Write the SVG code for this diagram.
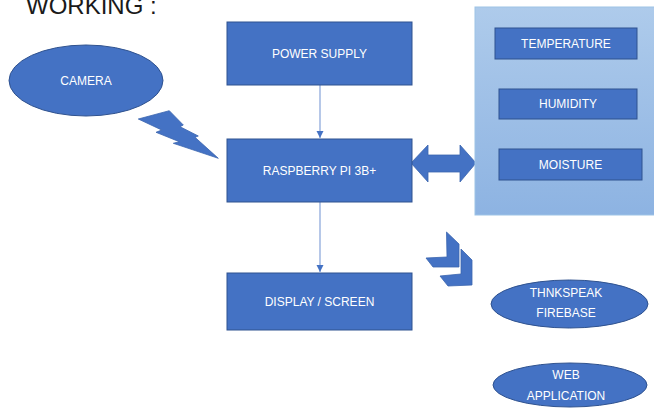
<svg xmlns="http://www.w3.org/2000/svg" width="654" height="409" viewBox="0 0 654 409">
<defs>
<style>
.box{fill:#4472C4;stroke:#2F528F;stroke-width:1}
.shape{fill:#4472C4;stroke:#3A64AE;stroke-width:0.8}
.t{font-family:"Liberation Sans",Arial,sans-serif;font-size:12px;fill:#FFFFFF;text-anchor:middle;dominant-baseline:central}
.conn{stroke:#8FAADC;stroke-width:1.3;fill:none}
</style>
<linearGradient id="pg" x1="0" y1="0" x2="0" y2="1">
<stop offset="0" stop-color="#AECBEB"/>
<stop offset="1" stop-color="#8DB3E2"/>
</linearGradient>
<marker id="ah" markerWidth="8" markerHeight="8" refX="7" refY="4" orient="auto" markerUnits="userSpaceOnUse">
<path d="M0,0.5 L7,4 L0,7.5 Z" fill="#4472C4"/>
</marker>
</defs>
<rect width="654" height="409" fill="#FFFFFF"/>
<text x="26" y="14" font-family="Liberation Sans,Arial,sans-serif" font-size="24" fill="#1A1A1A">WORKING :</text>

<g id="connectors">
<line class="conn" x1="320" y1="85" x2="320" y2="138" marker-end="url(#ah)"/>
<line class="conn" x1="320" y1="202" x2="320" y2="272" marker-end="url(#ah)"/>
<polygon id="lightning" class="shape" points="138.3,119 169.3,110.7 183.3,125 180,126.7 198.3,136 195,137.3 218.3,158.3 173.3,143.3 179.3,141.7 156,132.3 161.7,130"/>
<polygon id="double-arrow" class="shape" points="411,163 428,145 428,155 460,155 460,145 476,163 460,182 460,172 428,172 428,182"/>
<g id="chevrons">
<polygon class="shape" points="446.5,232 459,244 459,267 433,267 426,258 447,257"/>
<polygon class="shape" points="461,249 472,260 472,285 448,286 440,276 461,274"/>
</g>
</g>

<g id="camera">
<ellipse class="box" cx="86" cy="80.5" rx="77" ry="35.5"/>
<text class="t" x="86" y="81">CAMERA</text>
</g>

<g id="power-supply">
<rect class="box" x="227" y="22" width="185" height="63"/>
<text class="t" x="319.5" y="53.5">POWER SUPPLY</text>
</g>

<g id="raspberry-pi">
<rect class="box" x="227" y="139" width="185" height="63"/>
<text class="t" x="319.5" y="170.5">RASPBERRY PI 3B+</text>
</g>

<g id="display">
<rect class="box" x="227" y="273" width="185" height="57"/>
<text class="t" x="319.5" y="302">DISPLAY / SCREEN</text>
</g>

<g id="sensors">
<rect x="475" y="7" width="180" height="208" fill="url(#pg)" stroke="#9DC3E6" stroke-width="1"/>
<g id="temperature">
<rect class="box" x="495" y="28" width="142" height="31"/>
<text class="t" x="566" y="43.5">TEMPERATURE</text>
</g>
<g id="humidity">
<rect class="box" x="499" y="89" width="138" height="30"/>
<text class="t" x="568" y="104">HUMIDITY</text>
</g>
<g id="moisture">
<rect class="box" x="499" y="149" width="143" height="31"/>
<text class="t" x="570.5" y="164.5">MOISTURE</text>
</g>
</g>

<g id="thingspeak">
<ellipse class="box" cx="569.5" cy="304" rx="78.5" ry="24"/>
<text class="t" x="566" y="293">THNKSPEAK</text>
<text class="t" x="566" y="313">FIREBASE</text>
</g>

<g id="web-app">
<ellipse class="box" cx="570" cy="385" rx="77" ry="22"/>
<text class="t" x="566" y="375">WEB</text>
<text class="t" x="566" y="396">APPLICATION</text>
</g>
</svg>
